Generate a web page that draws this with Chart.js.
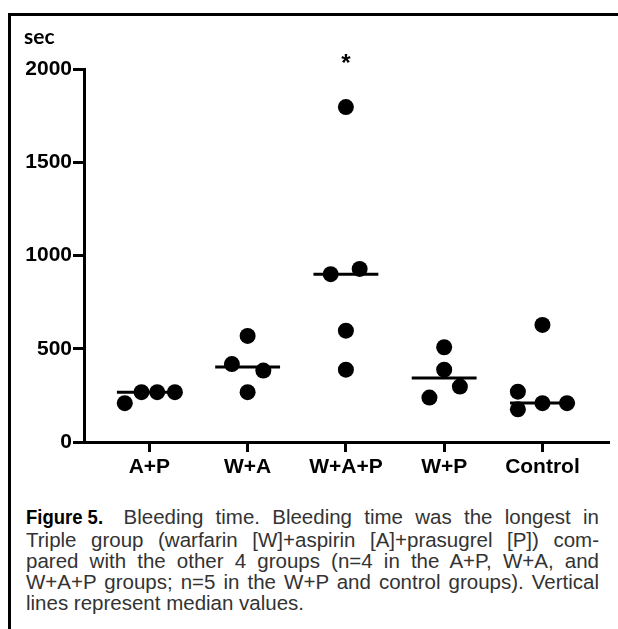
<!DOCTYPE html>
<html>
<head>
<meta charset="utf-8">
<script src="https://cdn.jsdelivr.net/npm/chart.js@4.4.1/dist/chart.umd.min.js"></script>
<style>
  body { margin: 0; background: #fff; width: 618px; height: 629px; overflow: hidden; position: relative; }
  #frame { position: absolute; left: 8px; top: 13px; width: 620px; height: 630px; border-left: 3px solid #000; border-top: 3px solid #000; }
  #chart { position: absolute; left: 0; top: 0; }
  #unit { position: absolute; left: 24px; top: 25px; font: bold 21px Lato, "Liberation Sans", sans-serif; line-height: 21px; }
  #caption { position: absolute; left: 26px; top: 505px; width: 573px; font: 20.5px "Liberation Sans", Arial, sans-serif; line-height: 21px; color: #333; }
  #caption span { display: block; text-align: justify; text-align-last: justify; white-space: nowrap; }
  #caption span.last { text-align-last: left; }
  #caption b { display: inline-block; font: bold 21px "Liberation Sans", Arial, sans-serif; transform: scaleX(0.88); transform-origin: 0 50%; margin-right: 10px; color: #000; }
</style>
</head>
<body>
<div id="frame"></div>
<canvas id="chart" width="618" height="500"></canvas>
<div id="unit">sec</div>
<div id="caption">
  <span><b>Figure 5.</b>Bleeding time. Bleeding time was the longest in</span>
  <span>Triple group (warfarin [W]+aspirin [A]+prasugrel [P]) com-</span>
  <span>pared with the other 4 groups (n=4 in the A+P, W+A, and</span>
  <span>W+A+P groups; n=5 in the W+P and control groups). Vertical</span>
  <span class="last">lines represent median values.</span>
</div>
<script>
const groups = ['A+P', 'W+A', 'W+A+P', 'W+P', 'Control'];

// bleeding time of each animal (sec), with its sideways shift off the group centre
const secAP = [208, 267, 267, 267];
const jitAP = [-0.25, -0.08, 0.08, 0.26];
const secWA = [569, 418, 383, 267];
const jitWA = [0, -0.16, 0.16, 0];
const secWAP = [1796, 928, 900, 597, 388];
const jitWAP = [0, 0.14, -0.155, 0, 0];
const secWP = [508, 388, 297, 238];
const jitWP = [0, 0, 0.16, -0.15];
const secCtrl = [628, 270, 175, 208, 208];
const jitCtrl = [0, -0.25, -0.25, 0, 0.25];

const medians = [267, 402, 900, 343, 209];
const yTicks = [0, 500, 1000, 1500, 2000];
const starAt = { x: 3, y: 2060 };   // significance mark over W+A+P

const allSec = [secAP, secWA, secWAP, secWP, secCtrl];
const allJit = [jitAP, jitWA, jitWAP, jitWP, jitCtrl];

let pts = [];
allSec.forEach((vals, g) => {
  vals.forEach((v, j) => pts.push({ x: g + 1 + allJit[g][j], y: v }));
});

const halfW = 0.33;
const medianSets = medians.map((m, g) => ({
  type: 'line',
  data: [{ x: g + 1 - halfW, y: m }, { x: g + 1 + halfW, y: m }],
  borderColor: '#000',
  borderWidth: 3,
  pointRadius: 0,
  fill: false
}));

const tickFont = { family: '"Liberation Sans", Arial, sans-serif', size: 21, weight: 'bold' };

// draws the * above the triple group
const starPlugin = {
  id: 'star',
  afterDatasetsDraw(chart) {
    const { ctx, scales: { x, y } } = chart;
    const size = 24;
    ctx.save();
    ctx.font = 'bold ' + size + 'px "Liberation Sans", Arial';
    ctx.fillStyle = '#000';
    ctx.textAlign = 'center';
    ctx.textBaseline = 'alphabetic';
    ctx.fillText('*', x.getPixelForValue(starAt.x), y.getPixelForValue(starAt.y) + size * 0.57);
    ctx.restore();
  }
};

new Chart(document.getElementById('chart'), {
  type: 'scatter',
  data: {
    datasets: [{
      data: pts,
      pointRadius: 8,
      pointHoverRadius: 8,
      backgroundColor: '#000',
      borderWidth: 0
    }].concat(medianSets)
  },
  options: {
    responsive: false,
    animation: false,
    layout: { padding: { top: 69, right: 10, left: 0, bottom: 0 } },
    plugins: { legend: { display: false }, tooltip: { enabled: false } },
    scales: {
      x: {
        type: 'linear',
        min: 0.335,
        max: 5.667,
        afterBuildTicks: s => { s.ticks = groups.map((g, i) => ({ value: i + 1 })); },
        afterFit: s => { s.height = 58; },
        ticks: { callback: v => groups[v - 1], font: tickFont, color: '#000', padding: 3, maxRotation: 0, autoSkip: false },
        grid: { drawOnChartArea: false, color: '#000', lineWidth: 3, tickLength: 10 },
        border: { color: '#000', width: 3 }
      },
      y: {
        min: 0,
        max: 2000,
        afterBuildTicks: s => { s.ticks = yTicks.map(v => ({ value: v })); },
        afterFit: s => { s.width = 84; },
        ticks: { callback: v => String(v), font: tickFont, color: '#000', padding: 1 },
        grid: { drawOnChartArea: false, color: '#000', lineWidth: 3, tickLength: 11 },
        border: { color: '#000', width: 3 }
      }
    }
  },
  plugins: [starPlugin]
});
</script>
</body>
</html>
